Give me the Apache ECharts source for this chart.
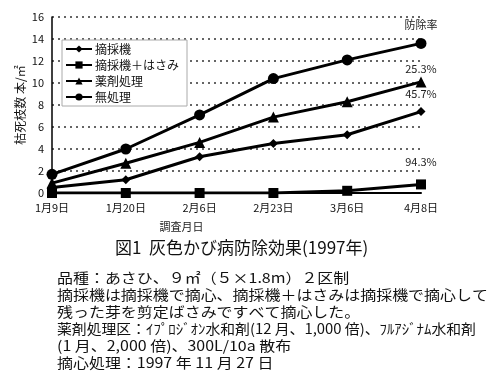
<!DOCTYPE html>
<html>
<head>
<meta charset="utf-8">
<script src="https://cdn.jsdelivr.net/npm/echarts@6/dist/echarts.min.js"></script>
<style>
html,body{margin:0;padding:0;background:#fff;}
#c{width:504px;height:384px;}
</style>
</head>
<body>
<div id="c"></div>
<script>
var categories = ['1月9日', '1月20日', '2月6日', '2月23日', '3月6日', '4月8日'];
var seriesNames = ['摘採機', '摘採機＋はさみ', '薬剤処理', '無処理'];
var tekisaiki = [0.5, 1.2, 3.3, 4.5, 5.3, 7.4];
var hasami = [0, 0, 0, 0, 0.2, 0.78];
var yakuzai = [0.9, 2.7, 4.6, 6.9, 8.3, 10.1];
var mushori = [1.7, 4.0, 7.1, 10.4, 12.1, 13.6];
var rateLabels = ['45.7%', '94.3%', '25.3%', '防除率'];
var yTicks = [0, 2, 4, 6, 8, 10, 12, 14, 16];
var titleText = '図1  灰色かび病防除効果(1997年)';
var notes = [
  '品種：あさひ、９㎡（５×1.8m）２区制',
  '摘採機は摘採機で摘心、摘採機＋はさみは摘採機で摘心して',
  '残った芽を剪定ばさみですべて摘心した。',
  '薬剤処理区：ｲﾌﾟﾛｼﾞｵﾝ水和剤(12 月、1,000 倍)、ﾌﾙｱｼﾞﾅﾑ水和剤',
  '(1 月、2,000 倍)、300L/10a 散布',
  '摘心処理：1997 年 11 月 27 日'
];

var font = '"Noto Sans CJK JP", "DejaVu Sans", sans-serif';
var symbols = ['diamond', 'rect', 'triangle', 'circle'];
var symbolSizes = [9, 10, 11, 11];
var labelDist = [8, 12, 2, 8];
var dataSets = [tekisaiki, hasami, yakuzai, mushori];

var series = dataSets.map(function (d, i) {
  return {
    name: seriesNames[i],
    type: 'line',
    data: d.map(function (v, j) {
      if (j === d.length - 1) {
        return { value: v, label: { show: true, formatter: rateLabels[i], position: 'top', distance: labelDist[i] } };
      }
      return v;
    }),
    symbol: symbols[i],
    symbolSize: symbolSizes[i],
    showAllSymbol: true,
    lineStyle: { color: '#000', width: 3 },
    itemStyle: { color: '#000' },
    label: { color: '#222', fontSize: 11, fontFamily: font },
    z: 3 + i,
    animation: false
  };
});

var chart = echarts.init(document.getElementById('c'));
var graphics = notes.map(function (t, i) {
  return {
    type: 'text',
    x: 57,
    y: 271 + i * 17,
    scaleX: i === 3 ? 1.06 : 1.14,
    style: { text: t, font: '14px ' + font, fill: '#111', verticalAlign: 'top' }
  };
});

chart.setOption({
  animation: false,
  backgroundColor: '#fff',
  title: {
    text: titleText,
    left: 110,
    top: 234,
    textStyle: { fontSize: 17, fontWeight: 'normal', color: '#111', fontFamily: font }
  },
  legend: {
    orient: 'vertical',
    left: 62,
    top: 40,
    data: seriesNames,
    itemWidth: 26,
    itemHeight: 9,
    itemGap: 4,
    padding: [3, 8, 3, 3],
    borderColor: '#aaa',
    borderWidth: 1,
    backgroundColor: '#fff',
    textStyle: { fontSize: 12, color: '#111', fontFamily: font, padding: [0, 0, 0, -2] }
  },
  grid: { left: 52, right: 83, top: 17, bottom: 191, containLabel: false },
  xAxis: {
    type: 'category',
    data: categories,
    boundaryGap: false,
    name: '調査月日',
    nameLocation: 'middle',
    nameGap: 28,
    nameTextStyle: { fontSize: 11, color: '#222', fontFamily: font, padding: [0, 110, 0, 0] },
    axisLine: { lineStyle: { color: '#000', width: 2 } },
    axisTick: { show: false },
    axisLabel: { fontSize: 11, color: '#111', fontFamily: font, margin: 9 },
    splitLine: { show: false }
  },
  yAxis: {
    type: 'value',
    min: 0,
    max: 16,
    interval: 2,
    name: '枯死枝数 本/㎡',
    nameLocation: 'middle',
    nameRotate: 90,
    nameGap: 26,
    nameMoveOverlap: false,
    nameTextStyle: { fontSize: 12, color: '#111', fontFamily: font },
    axisLine: { show: true, lineStyle: { color: '#000', width: 1.5 } },
    axisTick: { show: false },
    axisLabel: { fontSize: 11, color: '#111', fontFamily: font, margin: 8 },
    splitLine: { show: true, lineStyle: { color: '#333', type: [2, 4], width: 1.5 } }
  },
  graphic: graphics,
  series: series
});
</script>
</body>
</html>
